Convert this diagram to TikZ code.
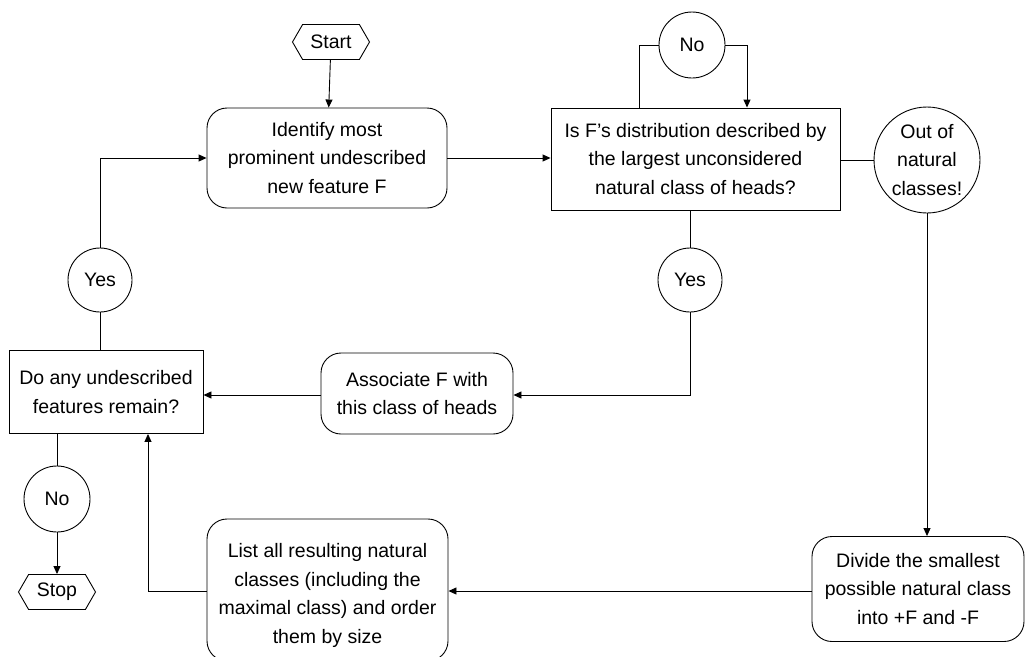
\documentclass[tikz,border=0pt]{standalone}
\usepackage{fontspec}
\setmainfont{Liberation Sans}
\usetikzlibrary{shapes.symbols,arrows.meta}
\begin{document}
\begin{tikzpicture}[x=1pt,y=-1pt,
  every node/.style={font=\fontsize{19.5}{28.5}\selectfont, inner sep=0pt, align=center, line width=0.9pt},
  rbox/.style={draw, rounded corners=20pt, minimum width=#1},
  sbox/.style={draw, minimum width=#1},
  circ/.style={draw, circle, minimum size=#1},
  hexa/.style={draw, signal, signal to=east and west, signal pointer angle=120, minimum width=77pt, minimum height=35pt},
  conn/.style={line width=0.9pt},
  arr/.style={conn, -{Triangle[length=8pt,width=7pt]}}
]
\useasboundingbox (0,0) rectangle (1025,656);
% nodes
\node[hexa] (start) at (331,42) {Start};
\node[rbox=240pt, minimum height=100pt] (ident) at (327,158) {Identify most\\prominent undescribed\\new feature F};
\node[sbox=289pt, minimum height=102pt] (isf) at (695.5,159) {Is F's distribution described by\\the largest unconsidered\\natural class of heads?};
\node[circ=66pt] (notop) at (692,45) {No};
\node[circ=106pt] (out) at (927,160) {Out of\\natural\\classes!};
\node[circ=64pt] (yesr) at (690,280) {Yes};
\node[rbox=192pt, minimum height=81pt] (assoc) at (417,393.5) {Associate F with\\this class of heads};
\node[sbox=194pt, minimum height=83pt] (doany) at (106,392) {Do any undescribed\\features remain?};
\node[circ=64pt] (yesl) at (100,280) {Yes};
\node[circ=66pt] (nobot) at (57,499) {No};
\node[hexa] (stop) at (57,592) {Stop};
\node[rbox=212pt, minimum height=105pt] (divide) at (918,589) {Divide the smallest\\possible natural class\\into +F and -F};
\node[rbox=241pt, minimum height=142pt] (list) at (327.5,590) {\raisebox{-5pt}[\height][\depth]{\begin{tabular}{@{}c@{}}List all resulting natural\\classes (including the\\maximal class) and order\\them by size\end{tabular}}};
% connectors
\draw[arr] (start) -- (ident);
\draw[arr] (ident.east) -- (ident.east -| isf.west);
\draw[conn] (isf.north -| 639,0) |- (notop.west);
\draw[arr] (notop.east) -| (isf.north -| 747,0);
\draw[conn] (isf.east |- out.west) -- (out.west);
\draw[arr] (out.south) -- (out.south |- divide.north);
\draw[conn] (isf.south -| yesr) -- (yesr.north);
\draw[arr] (yesr.south) |- (assoc.east |- 0,395);
\draw[arr] (assoc.west |- 0,395) -- (doany.east |- 0,395);
\draw[conn] (doany.north -| yesl) -- (yesl.south);
\draw[arr] (yesl.north) |- (ident.west);
\draw[conn] (doany.south -| nobot) -- (nobot.north);
\draw[arr] (nobot.south) -- (stop.north);
\draw[arr] (divide.west |- 0,591) -- (list.east |- 0,591);
\draw[arr] (list.west |- 0,591) -| (doany.south -| 148,0);
\end{tikzpicture}
\end{document}
